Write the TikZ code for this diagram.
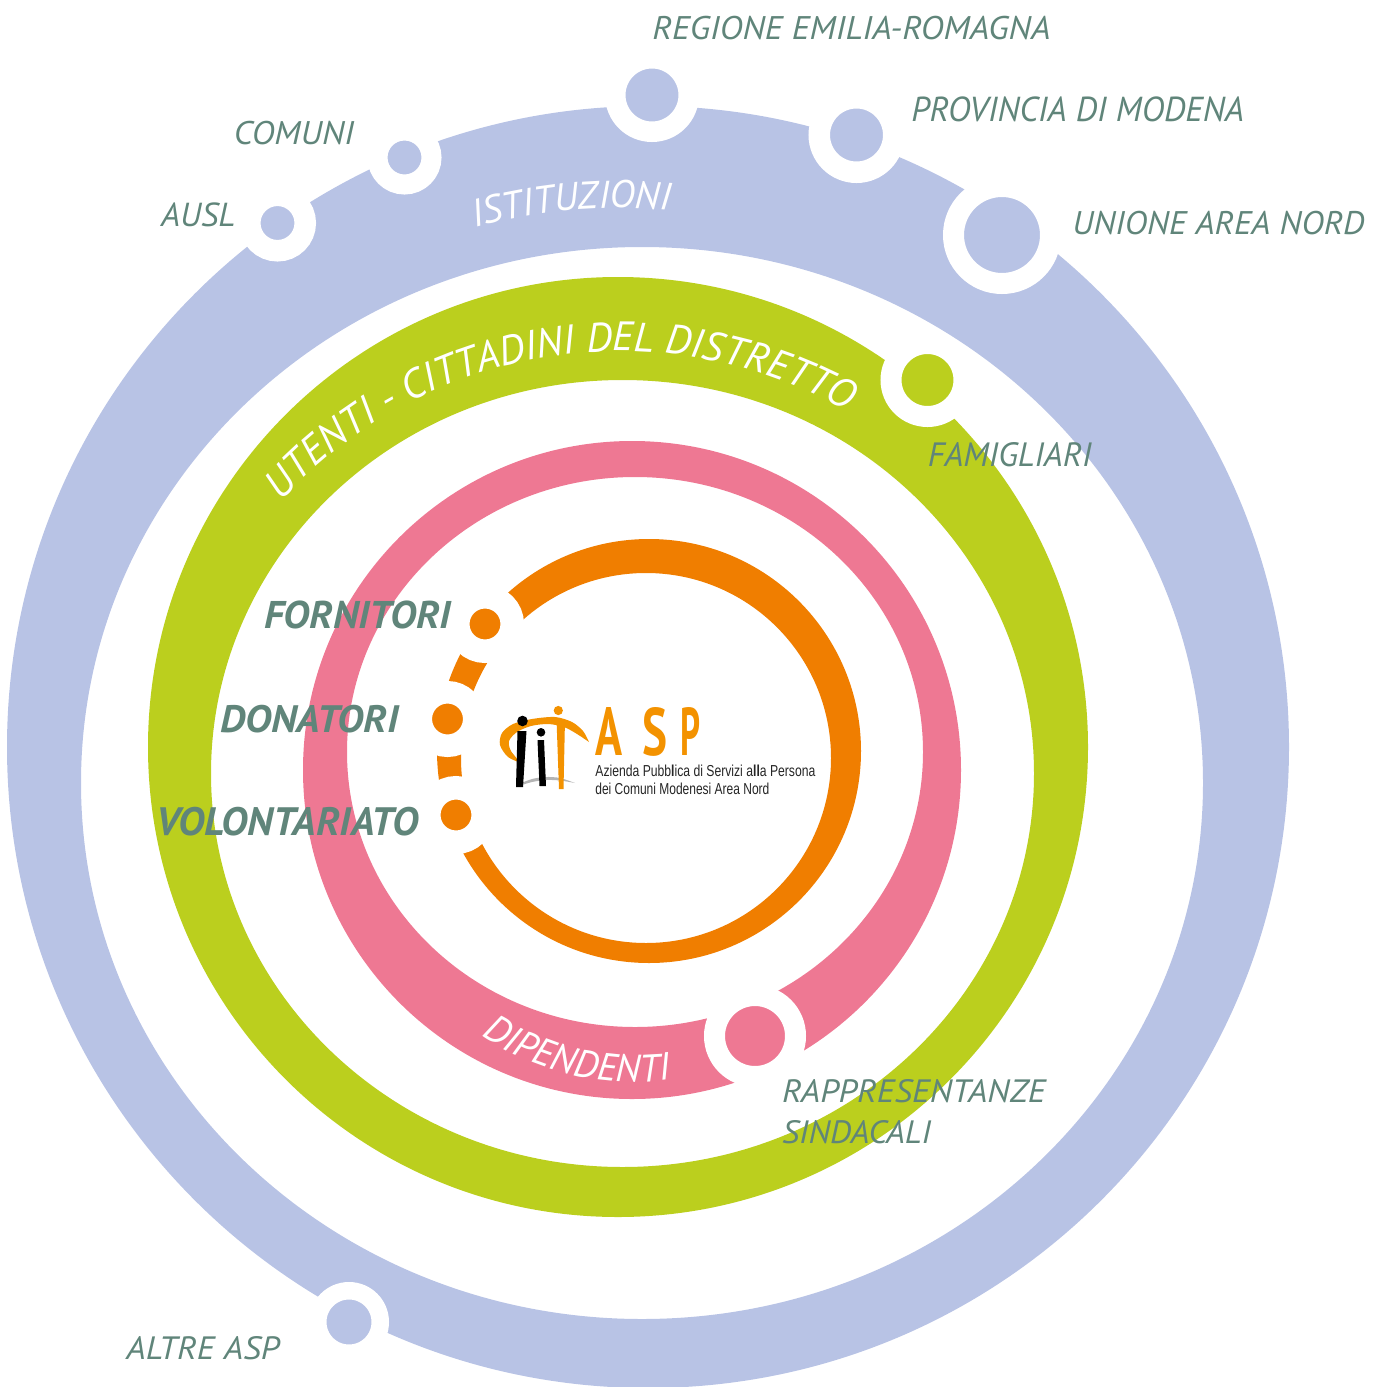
\documentclass[tikz,border=0pt]{standalone}
\usepackage{fontspec}
\setmainfont{PT Sans}
\newfontfamily\logofont{Liberation Sans}
\usepackage{graphicx}
\usetikzlibrary{decorations.text}
\definecolor{cblue}{HTML}{B8C3E5}
\definecolor{cgreen}{HTML}{BBCF1E}
\definecolor{cpink}{HTML}{EE7893}
\definecolor{corange}{HTML}{F07E00}
\definecolor{clogo}{HTML}{F39200}
\definecolor{cteal}{HTML}{60857A}
\definecolor{cgray}{HTML}{B4B4B4}
\tikzset{
  bubble/.style={circle, inner sep=0pt, draw=white},
  lbl/.style={anchor=base west, inner sep=0pt, text=cteal, font=\itshape},
  blbl/.style={anchor=base west, inner sep=0pt, text=cteal, font=\bfseries\itshape},
  asp/.style={anchor=base west, inner sep=0pt, text=clogo, font=\bfseries},
  sub/.style={anchor=base west, inner sep=0pt, text=black!85, font=\logofont},
  ringtext/.style={decorate, decoration={text along path, text align=center, text color=white}}
}
\begin{document}
\begin{tikzpicture}[x=0.5pt,y=0.5pt]
\useasboundingbox (0,0) rectangle (1380,-1387);
% rings
\fill[cblue, even odd rule] (648,-747) circle[radius=641] (642,-783) ellipse[x radius=561, y radius=536];
\fill[cgreen, even odd rule] (618,-747) circle[radius=470] (622.5,-773.5) ellipse[x radius=411.5, y radius=393.5];
\fill[cpink, even odd rule] (632,-770) circle[radius=329] (635,-752) ellipse[x radius=288, y radius=275];
\fill[corange, even odd rule] (649,-751) circle[radius=212] (646,-758) circle[radius=185];
% dots with white halos
\node[bubble, fill=cblue, minimum size=36.75pt, line width=10.25pt] (dregione) at (652,-95) {};
\node[bubble, fill=cblue, minimum size=37.25pt, line width=10.75pt] (dprovincia) at (856.5,-135) {};
\node[bubble, fill=cblue, minimum size=48.5pt, line width=10.5pt] (dunione) at (1002,-235) {};
\node[bubble, fill=cblue, minimum size=27pt, line width=10pt] (dcomuni) at (404.5,-157.5) {};
\node[bubble, fill=cblue, minimum size=27.75pt, line width=10.75pt] (dausl) at (277.5,-223) {};
\node[bubble, fill=cblue, minimum size=31.25pt, line width=8.75pt] (daltre) at (349,-1322) {};
\node[bubble, fill=cgreen, minimum size=36.5pt, line width=10.5pt] (dfam) at (927.5,-380) {};
\node[bubble, fill=cpink, minimum size=40.5pt, line width=10.5pt] (drapp) at (755,-1036) {};
\node[bubble, fill=corange, minimum size=27.25pt, line width=11.75pt] (dforn) at (485,-624) {};
\node[bubble, fill=corange, minimum size=26.75pt, line width=11.25pt] (ddon) at (447.5,-719) {};
\node[bubble, fill=corange, minimum size=27.25pt, line width=11.75pt] (dvol) at (456,-815) {};
% ring texts
\path[ringtext, decoration={text={|\fontsize{19.3}{23}\selectfont\itshape|ISTITUZIONI}}]
  ([shift={(620,-760)}]115:552) arc[start angle=115, end angle=75, radius=552];
\path[ringtext, decoration={text={|\fontsize{20.5}{24}\selectfont\itshape|UTENTI - CITTADINI DEL DISTRETTO}}]
  ([shift={(620,-808)}]150:457) arc[start angle=150, end angle=48, radius=457];
\path[ringtext, decoration={text={|\fontsize{19.3}{23}\selectfont\itshape|DIPENDENTI}}]
  ([shift={(635,-804)}]222:278) arc[start angle=222, end angle=292, radius=278];
% labels
\node[lbl] (lregione) at (652,-39.3) {\resizebox{199pt}{11.65pt}{REGIONE EMILIA-ROMAGNA}};
\node[lbl] (lcomuni) at (233.4,-144) {\resizebox{60.1pt}{11.65pt}{COMUNI}};
\node[lbl] (lausl) at (160.7,-226.7) {\resizebox{37.05pt}{11.85pt}{AUSL}};
\node[lbl] (lprov) at (911,-121.7) {\resizebox{166.3pt}{12.35pt}{PROVINCIA DI MODENA}};
\node[lbl] (lunione) at (1072,-234) {\resizebox{146pt}{11.65pt}{UNIONE AREA NORD}};
\node[lbl] (lfam) at (927.5,-466.7) {\resizebox{81.75pt}{12pt}{FAMIGLIARI}};
\node[lbl] (lrapp) at (781.7,-1102) {\resizebox{131.65pt}{11.5pt}{RAPPRESENTANZE}};
\node[lbl] (lsind) at (781.7,-1143) {\resizebox{74.4pt}{11.5pt}{SINDACALI}};
\node[lbl] (laltre) at (126,-1359) {\resizebox{76.5pt}{11.5pt}{ALTRE ASP}};
\node[blbl] (lforn) at (263.6,-628.3) {\resizebox{93.55pt}{13.8pt}{FORNITORI}};
\node[blbl] (ldon) at (219.6,-732.3) {\resizebox{89.3pt}{13.65pt}{DONATORI}};
\node[blbl] (lvol) at (156.4,-835) {\resizebox{130.75pt}{14.15pt}{VOLONTARIATO}};
% logo
\fill[cgray] plot[smooth] coordinates {(519,-784) (532,-779) (546,-777) (560,-778) (575,-783)}
  -- plot[smooth] coordinates {(575,-783) (560,-780.5) (546,-780) (532,-782) (519,-786)} -- cycle;
\fill[clogo] plot[smooth] coordinates {(521,-763) (508,-757) (500,-745) (502,-733) (513,-724) (532,-719) (555,-717) (572,-722) (583,-731) (589,-742)}
  -- plot[smooth] coordinates {(589,-742) (577,-734) (564,-727) (548,-724) (531,-726) (517,-732) (509,-741) (511,-751) (521,-763)} -- cycle;
\fill[black] (517.5,-731) -- (526.5,-731) -- (523,-787) -- (516,-787) -- cycle;
\fill[black] (522.5,-721) circle[radius=5.3];
\fill[black] (537.5,-740) -- (544,-740) -- (546,-786) -- (539.5,-786) -- cycle;
\fill[black] (541,-732.3) circle[radius=4.3];
\fill[clogo] (556.5,-719) -- (565,-719) -- (563.5,-789) -- (559,-789) -- cycle;
\fill[clogo] (558.3,-710.5) circle[radius=4.6];
\node[asp] (la) at (595,-755) {\resizebox{13.5pt}{24pt}{A}};
\node[asp] (ls) at (642,-755) {\resizebox{12.5pt}{24pt}{S}};
\node[asp] (lp) at (680,-755) {\resizebox{10pt}{24pt}{P}};
\node[sub] (lsub1) at (595,-776) {\resizebox{110pt}{5.75pt}{Azienda Pubb\textbf{l}ica di Servizi a\textbf{ll}a Persona}};
\node[sub] (lsub2) at (595,-794) {\resizebox{87pt}{5.75pt}{dei Comuni Modenesi Area Nord}};
\end{tikzpicture}
\end{document}
